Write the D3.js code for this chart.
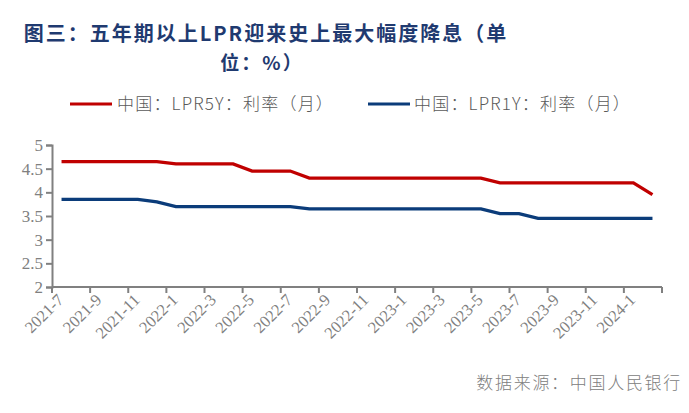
<!DOCTYPE html>
<html><head><meta charset="utf-8">
<script src="https://cdn.jsdelivr.net/npm/d3@7"></script>
<style>body{margin:0;background:#fff}svg{display:block}</style>
</head><body>
<svg id="c" width="689" height="413"></svg>
<script>
const months = ["2021-7","2021-8","2021-9","2021-10","2021-11","2021-12","2022-1","2022-2","2022-3","2022-4","2022-5","2022-6","2022-7","2022-8","2022-9","2022-10","2022-11","2022-12","2023-1","2023-2","2023-3","2023-4","2023-5","2023-6","2023-7","2023-8","2023-9","2023-10","2023-11","2023-12","2024-1","2024-2"];
const lpr5y = [4.65,4.65,4.65,4.65,4.65,4.65,4.60,4.60,4.60,4.60,4.45,4.45,4.45,4.30,4.30,4.30,4.30,4.30,4.30,4.30,4.30,4.30,4.30,4.20,4.20,4.20,4.20,4.20,4.20,4.20,4.20,3.95];
const lpr1y = [3.85,3.85,3.85,3.85,3.85,3.80,3.70,3.70,3.70,3.70,3.70,3.70,3.70,3.65,3.65,3.65,3.65,3.65,3.65,3.65,3.65,3.65,3.65,3.55,3.55,3.45,3.45,3.45,3.45,3.45,3.45,3.45];
const yTicks = [2,2.5,3,3.5,4,4.5,5];
const seriesNames = ["中国：LPR5Y：利率（月）","中国：LPR1Y：利率（月）"];
const colors = ["#C00000","#0B3C7A"];

const svg = d3.select("#c");
const mLeft = 52, mRight = 662, mTop = 145, mBottom = 287;
const x = d3.scaleBand().domain(months).range([mLeft, mRight]);
const y = d3.scaleLinear().domain([2,5]).range([mBottom, mTop]);

// title
svg.append("text").attr("x", 266).attr("y", 41).attr("text-anchor","middle")
  .attr("font-family","Noto Sans CJK SC").attr("font-weight","bold").attr("font-size",20)
  .attr("letter-spacing",2).attr("fill","#1F3A70").text("图三：五年期以上LPR迎来史上最大幅度降息（单");
svg.append("text").attr("x", 262).attr("y", 70).attr("text-anchor","middle")
  .attr("font-family","Noto Sans CJK SC").attr("font-weight","bold").attr("font-size",19)
  .attr("letter-spacing",2).attr("fill","#1F3A70").text("位：%）");

// legend
const leg = [{x1:70,tx:117},{x1:368,tx:414}];
leg.forEach((l,i)=>{
  svg.append("line").attr("x1",l.x1).attr("x2",l.x1+42).attr("y1",104).attr("y2",104)
    .attr("stroke",colors[i]).attr("stroke-width",3);
  svg.append("text").attr("x",l.tx).attr("y",110).attr("font-family","Noto Sans CJK SC")
    .attr("font-size",17).attr("font-weight",300).attr("letter-spacing",1.2).attr("fill","#595959").text(seriesNames[i]);
});

// y axis
const yAxis = d3.axisLeft(y).tickValues(yTicks).tickSize(6).tickFormat(d3.format("~g"));
const gy = svg.append("g").attr("transform",`translate(${mLeft},0)`).call(yAxis);
gy.selectAll("path,line").attr("stroke","#808080").attr("stroke-width",2);
gy.selectAll("text").attr("font-family","Liberation Serif").attr("font-size",17).attr("fill","#808080").attr("x",-9);

// x axis
const tickMonths = months.filter((d,i)=>i%2===0);
const gx = svg.append("g").attr("transform",`translate(0,${mBottom})`);
gx.append("line").attr("x1",mLeft).attr("x2",mRight).attr("stroke","#808080").attr("stroke-width",2);
months.forEach((m,i)=>{ if(i%2===0){ gx.append("line").attr("x1",x(m)).attr("x2",x(m)).attr("y1",0).attr("y2",6).attr("stroke","#808080").attr("stroke-width",2);} });
gx.append("line").attr("x1",mRight).attr("x2",mRight).attr("y1",0).attr("y2",6).attr("stroke","#808080").attr("stroke-width",2);
tickMonths.forEach(m=>{
  const cx = x(m)+x.bandwidth()/2;
  gx.append("text").attr("transform",`translate(${cx+3},${14}) rotate(-45)`).attr("text-anchor","end")
    .attr("font-family","Liberation Serif").attr("font-size",16.5).attr("fill","#808080").text(m);
});

// lines
const line = d3.line().x((d,i)=>x(months[i])+x.bandwidth()/2).y(d=>y(d));
[lpr5y,lpr1y].forEach((s,i)=>{
  svg.append("path").datum(s).attr("d",line).attr("fill","none").attr("stroke",colors[i]).attr("stroke-width",3.3);
});

// source
svg.append("text").attr("x",682).attr("y",389).attr("text-anchor","end").attr("font-family","Noto Sans CJK SC")
  .attr("font-size",17).attr("font-weight",300).attr("letter-spacing",1.7).attr("fill","#808080").text("数据来源：中国人民银行");
</script>
</body></html>
